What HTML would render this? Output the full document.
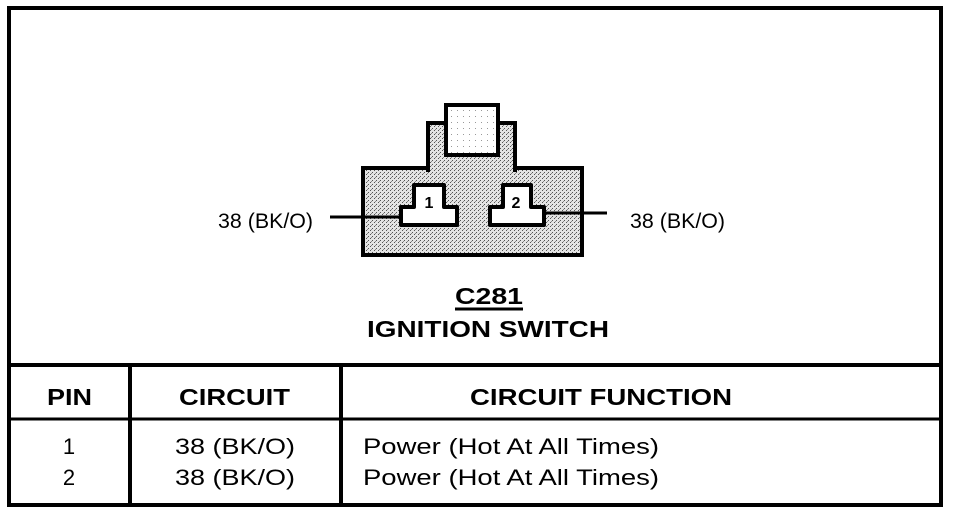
<!DOCTYPE html>
<html>
<head>
<meta charset="utf-8">
<style>
  html, body { margin:0; padding:0; background:#fff; }
  svg { display:block; }
  text { font-family: "Liberation Sans", Arial, sans-serif; fill:#000; }
  .b { font-weight:bold; }
</style>
</head>
<body>
<svg width="960" height="516" viewBox="0 0 960 516" xmlns="http://www.w3.org/2000/svg">
  <defs>
    <pattern id="dots" width="4" height="4" patternUnits="userSpaceOnUse">
      <rect width="4" height="4" fill="#e4e4e4"/>
      <rect x="0" y="0" width="1" height="1" fill="#555"/>
      <rect x="2" y="2" width="1" height="1" fill="#555"/>
      <rect x="3" y="1" width="1" height="1" fill="#888"/>
    </pattern>
    <pattern id="sparse" width="6" height="6" patternUnits="userSpaceOnUse">
      <rect width="6" height="6" fill="#fff"/>
      <rect x="1" y="2" width="1" height="1" fill="#999"/>
    </pattern>
  </defs>

  <!-- outer border -->
  <rect x="9" y="8" width="932" height="497" fill="none" stroke="#000" stroke-width="4"/>

  <!-- table lines -->
  <line x1="7" y1="365" x2="943" y2="365" stroke="#000" stroke-width="4"/>
  <line x1="7" y1="419" x2="943" y2="419" stroke="#000" stroke-width="3"/>
  <line x1="130" y1="365" x2="130" y2="505" stroke="#000" stroke-width="4"/>
  <line x1="341" y1="365" x2="341" y2="505" stroke="#000" stroke-width="4"/>

  <!-- connector body -->
  <rect x="363" y="168" width="219" height="87" fill="url(#dots)" stroke="#000" stroke-width="4"/>
  <!-- top tab -->
  <rect x="428" y="123" width="87" height="47" fill="url(#dots)" stroke="#000" stroke-width="4"/>
  <rect x="430" y="164" width="83" height="8" fill="url(#dots)"/>
  <!-- inner top box -->
  <rect x="446" y="105" width="52" height="50" fill="url(#sparse)" stroke="#000" stroke-width="4"/>

  <!-- wires -->
  <line x1="330" y1="217" x2="402" y2="217" stroke="#000" stroke-width="3"/>
  <line x1="543" y1="213" x2="607" y2="213" stroke="#000" stroke-width="3"/>

  <!-- terminals -->
  <path d="M414,185 H444 V207 H457 V225 H401 V207 H414 Z" fill="#fff" stroke="#000" stroke-width="4" stroke-linejoin="round"/>
  <path d="M503,185 H531 V207 H544 V225 H490 V207 H503 Z" fill="#fff" stroke="#000" stroke-width="4" stroke-linejoin="round"/>
  <text x="429" y="208" font-size="16" class="b" text-anchor="middle">1</text>
  <text x="516" y="208" font-size="16" class="b" text-anchor="middle">2</text>

  <!-- wire labels -->
  <text x="218" y="228" font-size="21" textLength="95" lengthAdjust="spacingAndGlyphs">38 (BK/O)</text>
  <text x="630" y="228" font-size="21" textLength="95" lengthAdjust="spacingAndGlyphs">38 (BK/O)</text>

  <!-- title -->
  <text x="455" y="304" font-size="23" class="b" textLength="68" lengthAdjust="spacingAndGlyphs">C281</text>
  <line x1="455" y1="309" x2="523" y2="309" stroke="#000" stroke-width="3"/>
  <text x="367" y="337" font-size="23" class="b" textLength="242" lengthAdjust="spacingAndGlyphs">IGNITION SWITCH</text>

  <!-- header -->
  <text x="47" y="405" font-size="23" class="b" textLength="45" lengthAdjust="spacingAndGlyphs">PIN</text>
  <text x="179" y="405" font-size="23" class="b" textLength="111" lengthAdjust="spacingAndGlyphs">CIRCUIT</text>
  <text x="470" y="405" font-size="23" class="b" textLength="262" lengthAdjust="spacingAndGlyphs">CIRCUIT FUNCTION</text>

  <!-- rows -->
  <text x="69" y="454" font-size="22" text-anchor="middle">1</text>
  <text x="69" y="485" font-size="22" text-anchor="middle">2</text>
  <text x="175" y="454" font-size="22" textLength="120" lengthAdjust="spacingAndGlyphs">38 (BK/O)</text>
  <text x="175" y="485" font-size="22" textLength="120" lengthAdjust="spacingAndGlyphs">38 (BK/O)</text>
  <text x="363" y="454" font-size="22" textLength="296" lengthAdjust="spacingAndGlyphs">Power (Hot At All Times)</text>
  <text x="363" y="485" font-size="22" textLength="296" lengthAdjust="spacingAndGlyphs">Power (Hot At All Times)</text>
</svg>
</body>
</html>
